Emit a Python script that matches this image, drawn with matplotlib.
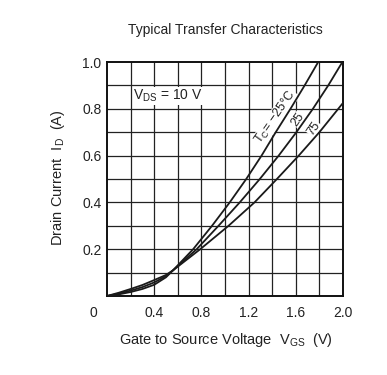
import matplotlib
matplotlib.use("Agg")
import matplotlib.pyplot as plt

plt.rcParams['font.family'] = ['Liberation Sans', 'DejaVu Sans']
plt.rcParams['mathtext.fontset'] = 'custom'
plt.rcParams['mathtext.rm'] = 'Liberation Sans'
plt.rcParams['mathtext.default'] = 'regular'

# curves (V_GS in V, I_D in A)
vgs_m25 = [0, 0.1, 0.2, 0.3, 0.4, 0.5, 0.56, 0.73, 0.89, 1.04, 1.18, 1.31, 1.43, 1.555, 1.675, 1.79]
id_m25 = [0, 0.007, 0.017, 0.03, 0.048, 0.08, 0.11, 0.2, 0.3, 0.4, 0.5, 0.6, 0.7, 0.8, 0.9, 1.0]

vgs_25 = [0, 0.1, 0.2, 0.3, 0.4, 0.5, 0.56, 0.76, 0.945, 1.125, 1.295, 1.455, 1.605, 1.745, 1.875, 1.995]
id_25 = [0, 0.01, 0.023, 0.038, 0.058, 0.085, 0.11, 0.2, 0.3, 0.4, 0.5, 0.6, 0.7, 0.8, 0.9, 1.0]

vgs_75 = [0, 0.1, 0.2, 0.3, 0.4, 0.5, 0.56, 0.79, 1.03, 1.25, 1.44, 1.625, 1.80, 1.96, 2.0]
id_75 = [0, 0.014, 0.03, 0.047, 0.068, 0.09, 0.11, 0.2, 0.3, 0.4, 0.5, 0.6, 0.7, 0.8, 0.825]

x_ticks = [0.4, 0.8, 1.2, 1.6, 2.0]
x_labels = ['0.4', '0.8', '1.2', '1.6', '2.0']
y_ticks = [0.2, 0.4, 0.6, 0.8, 1.0]
y_labels = ['0.2', '0.4', '0.6', '0.8', '1.0']

txt = '#222222'

fig = plt.figure(figsize=(3.87, 3.75), dpi=100)
ax = fig.add_axes([107 / 387, 1 - 296 / 375, 236 / 387, 234 / 375])

# grid
for i in range(1, 10):
    ax.axvline(i * 0.2, color='#222222', lw=0.9, zorder=1)
    ax.axhline(i * 0.1, color='#222222', lw=0.9, zorder=1)

ax.plot(vgs_m25, id_m25, color='#1a1a1a', lw=1.3, zorder=3)
ax.plot(vgs_25, id_25, color='#1a1a1a', lw=1.3, zorder=3)
ax.plot(vgs_75, id_75, color='#1a1a1a', lw=1.3, zorder=3)

ax.set_xlim(0, 2.0)
ax.set_ylim(0, 1.0)
ax.set_xticks(x_ticks)
ax.set_xticklabels(x_labels)
ax.set_yticks(y_ticks)
ax.set_yticklabels(y_labels)
ax.tick_params(length=0, labelsize=10, labelcolor=txt)
ax.tick_params(axis='x', pad=7)
ax.tick_params(axis='y', pad=4)
for s in ax.spines.values():
    s.set_linewidth(1.4)
    s.set_color('#111111')

ax.annotate('0', xy=(0, 0), xytext=(-10, -12), textcoords='offset points',
            ha='center', va='center', fontsize=10, color=txt)

bbox = dict(facecolor='white', edgecolor='none', pad=0.3)
ax.text(0.22, 0.855, '$V_{DS}$ = 10 V', fontsize=10, color=txt,
        ha='left', va='center', bbox=bbox, zorder=2)
ax.text(1.43, 0.764, '$T_C$= \u221225\u00b0C', fontsize=9, color=txt,
        rotation=55, ha='center', va='center', bbox=bbox, zorder=2)
ax.text(1.62, 0.753, '25', fontsize=9, color=txt,
        rotation=55, ha='center', va='center', bbox=bbox, zorder=2)
ax.text(1.75, 0.717, '75', fontsize=9, color=txt,
        rotation=55, ha='center', va='center', bbox=bbox, zorder=2)

fig.text(225 / 387, 1 - 30 / 375, 'Typical Transfer Characteristics',
         ha='center', va='center', fontsize=10, color=txt)
fig.text(226 / 387, 1 - 340 / 375, 'Gate to Source Voltage  $V_{GS}$  (V)',
         ha='center', va='center', fontsize=10.5, color=txt)
fig.text(58 / 387, 1 - 178 / 375, 'Drain Current  $I_D$  (A)',
         ha='center', va='center', fontsize=10.5, color=txt, rotation=90)

fig.savefig('out.png', dpi=100)
